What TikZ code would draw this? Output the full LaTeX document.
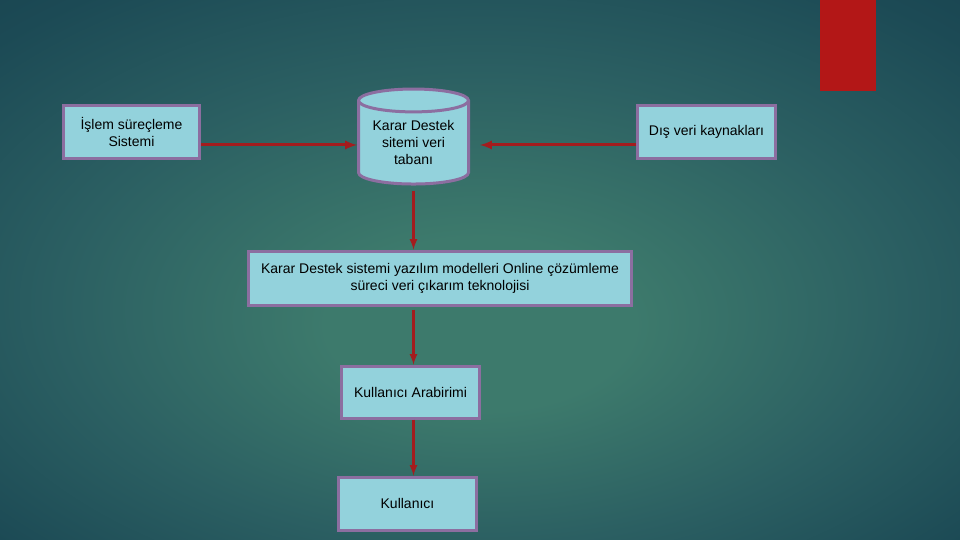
\documentclass[tikz,border=0pt]{standalone}
\usepackage{fontspec}
\setmainfont{Liberation Sans}
\usetikzlibrary{positioning, arrows, shapes.geometric}
\definecolor{boxfill}{HTML}{93D2DC}
\definecolor{boxline}{HTML}{8C6EA0}
\definecolor{lidfill}{HTML}{BAE5EC}
\definecolor{arrowred}{HTML}{A31C1E}
\definecolor{barred}{HTML}{B31717}
\definecolor{bgin}{HTML}{3D7A6C}
\definecolor{bgmid}{HTML}{2B5F62}
\definecolor{bgedge}{HTML}{1C4A55}
\definecolor{bgout}{HTML}{143845}
\pgfdeclareradialshading{slide}{\pgfpoint{0bp}{-6bp}}{color(0bp)=(bgin); color(8bp)=(bgin); color(22bp)=(bgmid); color(34bp)=(bgedge); color(50bp)=(bgout)}
\tikzset{
    box/.style={draw=boxline, fill=boxfill, line width=3pt, align=center,
      inner sep=0pt, font=\fontsize{14}{17}\selectfont},
    dbase/.style={box, cylinder, shape border rotate=90, aspect=0.28,
      cylinder uses custom fill, cylinder body fill=boxfill, cylinder end fill=lidfill},
    flow/.style={draw=arrowred, line width=2.5pt, -latex},
}

\begin{document}
\begin{tikzpicture}[x=1pt, y=1pt, node distance=60pt]
    % background
    \shade[shading=slide] (0,0) rectangle (960,540);
    \useasboundingbox (0,0) rectangle (960,540);
    \fill[barred] (820,449) rectangle (876,540);

    \node[dbase, minimum width=110pt, minimum height=95pt] (db) at (413.5,397)
      {Karar Destek\\sitemi veri\\tabanı};
    \node[box, minimum width=136pt, minimum height=53pt, left=156pt of db, yshift=11pt] (src)
      {İşlem süreçleme\\Sistemi};
    \node[box, minimum width=138pt, minimum height=53pt, right=166pt of db, yshift=11pt] (ext)
      {Dış veri kaynakları};
    \node[box, minimum width=383pt, minimum height=54pt, below=64pt of db, xshift=26.5pt] (dss)
      {Karar Destek sistemi yazılım modelleri Online çözümleme\\süreci veri çıkarım teknolojisi};
    \node[box, minimum width=138pt, minimum height=52pt, below=58pt of dss, xshift=-29.5pt] (ui)
      {Kullanıcı Arabirimi};
    \node[box, minimum width=138pt, minimum height=53pt, below=56pt of ui, xshift=-3pt] (user)
      {Kullanıcı};

    \draw[flow, line width=3pt] ([yshift=-13pt]src.east) -- ([yshift=-13pt]src.east -| db.west);
    \draw[flow, line width=3pt] ([yshift=-13pt]ext.west) -- ([yshift=-13pt,xshift=10pt]ext.west -| db.east);
    \draw[flow, shorten <=5pt] (db.south) -- (db.south |- dss.north);
    \draw[flow, shorten <=3pt] (db.south |- dss.south) -- (db.south |- ui.north);
    \draw[flow] (db.south |- ui.south) -- (db.south |- user.north);
\end{tikzpicture}
\end{document}
